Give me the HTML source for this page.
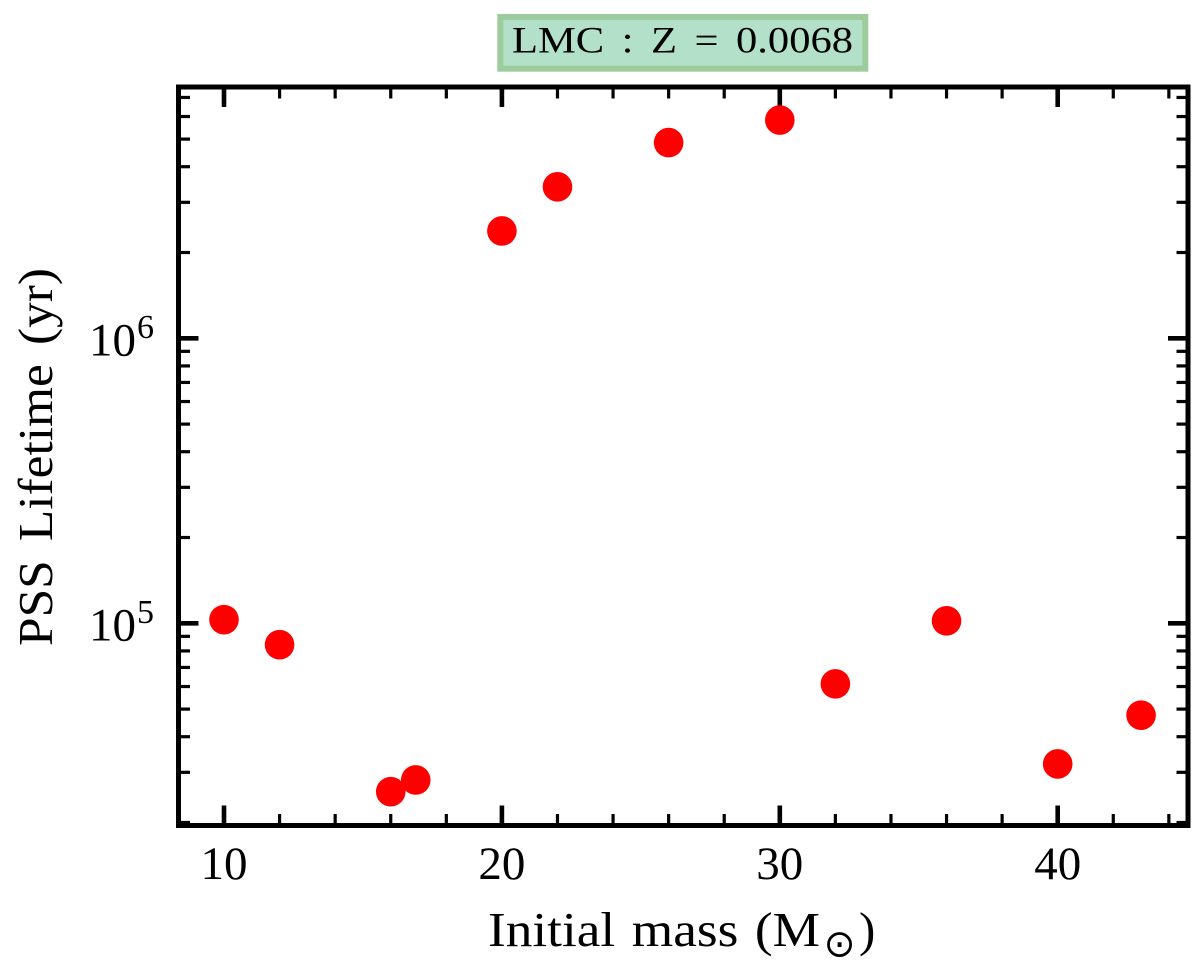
<!DOCTYPE html>
<html lang="en">
<head>
<meta charset="utf-8">
<title>LMC PSS Lifetime</title>
<style>
html,body{margin:0;padding:0;background:#fff;}
svg{display:block;}
text{font-family:"Liberation Serif","DejaVu Serif",serif;fill:#000;}
</style>
</head>
<body>
<svg id="chart" xmlns="http://www.w3.org/2000/svg" width="1200" height="965" viewBox="0 0 1200 965">
  <rect x="500.3" y="17" width="365" height="51.7" fill="#b2e0c8" stroke="#9ccc9c" stroke-width="6"/>
  <text x="512" y="52.5" font-size="37" word-spacing="6" textLength="341" lengthAdjust="spacingAndGlyphs">LMC : Z = 0.0068</text>
  <g id="ticks"></g>
  <g id="labels"></g>
  <rect x="178.5" y="87" width="1009.5" height="738.5" fill="none" stroke="#000" stroke-width="5"/>
  <g id="points"></g>
  <text x="488" y="946" font-size="49" word-spacing="3" textLength="332" lengthAdjust="spacingAndGlyphs">Initial mass (M</text>
  <text x="839.5" y="956.5" font-size="38" text-anchor="middle" style="font-family:'DejaVu Sans',sans-serif">⊙</text>
  <text x="859" y="946" font-size="49">)</text>
  <text transform="translate(52 646) rotate(-90)" font-size="49" word-spacing="6" textLength="378" lengthAdjust="spacingAndGlyphs">PSS Lifetime (yr)</text>
</svg>
<script>
const masses = [10, 12, 16, 16.9, 20, 22, 26, 30, 32, 36, 40, 43];
const lifetimes = [103000, 84100, 25650, 28200, 2380000, 3400000, 4860000, 5830000, 61300, 102000, 32100, 47600];
const xMajorTicks = [10, 20, 30, 40];
const xMinorTicks = [12, 14, 16, 18, 22, 24, 26, 28, 32, 34, 36, 38, 42, 44];
const yMajorExponents = [5, 6];
const yMinorTicks = [20000, 30000, 40000, 50000, 60000, 70000, 80000, 90000, 200000, 300000, 400000, 500000, 600000, 700000, 800000, 900000, 2000000, 3000000, 4000000, 5000000, 6000000, 7000000];

const NS = 'http://www.w3.org/2000/svg';
function xScale(v) { return 224 + (v - 10) * 27.79; }
function yScale(v) { return 338.3 - (Math.log10(v) - 6) * 285; }
function make(tag, attrs, parent) {
  const el = document.createElementNS(NS, tag);
  Object.keys(attrs).forEach(function (k) { el.setAttribute(k, attrs[k]); });
  parent.appendChild(el);
  return el;
}
const ticks = document.getElementById('ticks');
const labels = document.getElementById('labels');
const points = document.getElementById('points');
const TOP = 87, BOTTOM = 825.5, LEFT = 178.5, RIGHT = 1188;

function xTick(v, len, w) {
  const x = xScale(v);
  const b = make('line', { x1: x, x2: x, y1: BOTTOM, y2: BOTTOM - len, stroke: '#000', 'stroke-width': w }, ticks);
  
  
  const t = make('line', { x1: x, x2: x, y1: TOP, y2: TOP + len, stroke: '#000', 'stroke-width': w }, ticks);
  
  
}
function yTick(v, len, w) {
  const y = yScale(v);
  const l = make('line', { x1: LEFT, x2: LEFT + len, y1: y, y2: y, stroke: '#000', 'stroke-width': w }, ticks);
  
  
  const r = make('line', { x1: RIGHT, x2: RIGHT - len, y1: y, y2: y, stroke: '#000', 'stroke-width': w }, ticks);
  
  
}
xMinorTicks.forEach(function (v) { xTick(v, 11.5, 3.2); });
xMajorTicks.forEach(function (v) {
  xTick(v, 20, 4.6);
  const t = make('text', { x: xScale(v), y: 879, 'font-size': 47, 'text-anchor': 'middle' }, labels);
  
  
  t.textContent = String(v);
});
yMinorTicks.forEach(function (v) { yTick(v, 11.5, 3.2); });
yMajorExponents.forEach(function (e) {
  const v = Math.pow(10, e);
  yTick(v, 20, 4.6);
  const y = yScale(v);
  const base = make('text', { x: 89, y: y + 17, 'font-size': 47 }, labels);
  
  
  base.textContent = '10';
  const sup = make('text', { x: 137, y: y - 0.5, 'font-size': 34 }, labels);
  
  
  sup.textContent = String(e);
});
masses.forEach(function (m, i) {
  const c = make('circle', { cx: xScale(m), cy: yScale(lifetimes[i]), r: 14.8, fill: '#ff0000' }, points);
  
  
});
</script>
</body>
</html>
